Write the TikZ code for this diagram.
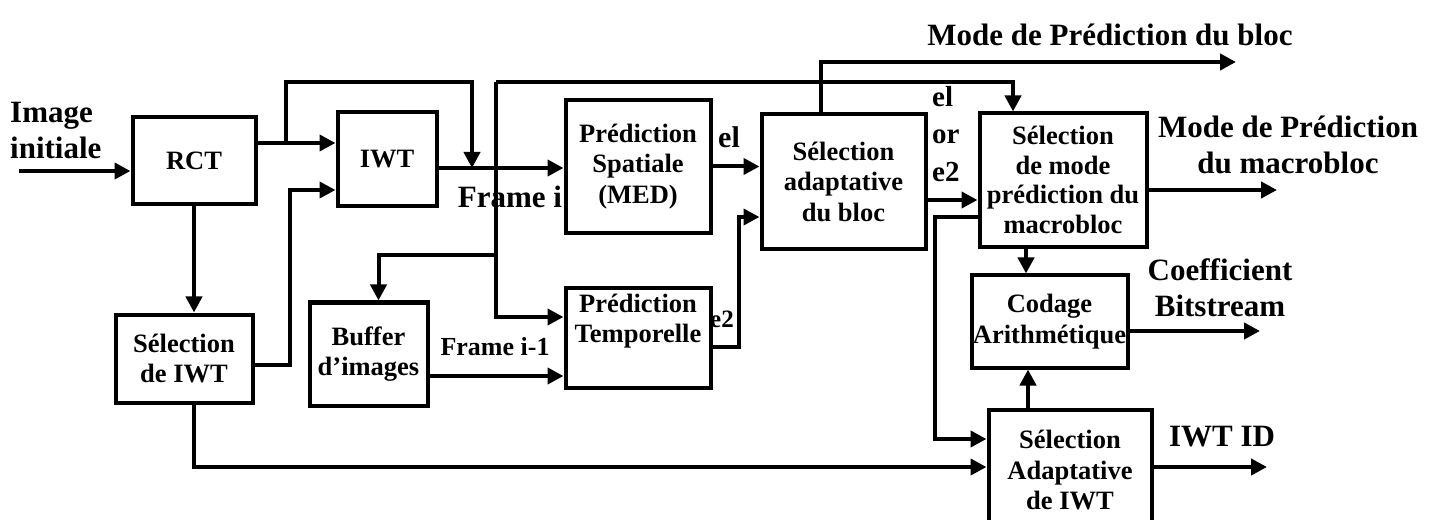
\documentclass[tikz,border=0pt]{standalone}
\usepackage{fontspec}
\setmainfont{Liberation Serif}
\usetikzlibrary{arrows.meta}

% Font sizes for the block texts and for the outside labels
\newcommand\blkfont{\fontsize{26.5bp}{30.5bp}\selectfont\bfseries}
\newcommand\tagfont{\fontsize{31bp}{36bp}\selectfont\bfseries}
\newcommand\smallfont{\fontsize{26bp}{30bp}\selectfont\bfseries}

\tikzset{
  blk/.style={draw, line width=4bp, inner sep=0pt, align=center, font=\blkfont},
  tag/.style={inner sep=0pt, align=center, font=\tagfont},
  smalltag/.style={inner sep=0pt, align=center, font=\smallfont},
  arr/.style={line width=4bp, -{Triangle[length=16bp,width=16bp]}},
}

\begin{document}
\begin{tikzpicture}[x=1bp,y=-1bp]
\useasboundingbox (0,0) rectangle (1435,520);
\clip (0,0) rectangle (1435,520);

% ---- processing blocks ----
\node[blk, minimum width=123bp, minimum height=87bp]  (rct)  at (194,161)     {RCT};
\node[blk, minimum width=99bp,  minimum height=94bp]  (iwt)  at (387,159.5)   {IWT};
\node[blk, minimum width=145bp, minimum height=132bp] (sp)   at (638,166.5)   {Prédiction\\Spatiale\\(MED)};
\node[blk, minimum width=164bp, minimum height=134bp] (sab)  at (843.5,181.5) {Sélection\\adaptative\\du bloc};
\node[blk, minimum width=167bp, minimum height=133bp, font=\fontsize{26.5bp}{29.5bp}\selectfont\bfseries]
                                                      (smb)  at (1063,180)    {Sélection\\de mode\\prédiction du\\macrobloc};
\node[blk, minimum width=156bp, minimum height=92bp]  (cod)  at (1049.5,321.5){Codage\\Arithmétique};
\node[blk, minimum width=163bp, minimum height=120bp] (sai)  at (1070,470)    {Sélection\\Adaptative\\de IWT};
\node[blk, minimum width=137bp, minimum height=88bp]  (siwt) at (184,358.5)   {Sélection\\de IWT};
\node[blk, minimum width=118bp, minimum height=103bp] (buf)  at (368.5,354)   {Buffer\\d’images};
\node[blk, minimum width=145bp, minimum height=99bp]  (tp)   at (638,338)     {};
\node[smalltag, font=\blkfont] (tptext) at (638,321) {Prédiction\\Temporelle};

% ---- outside labels ----
\node[tag, anchor=west, align=left] (imgin) at (10,131) {Image\\initiale};
\node[tag] (framei) at (510,197) {Frame i};
\node[tag, font=\fontsize{30bp}{36bp}\selectfont\bfseries] (e1l) at (729,137) {el};
\node[tag, anchor=west, align=left, font=\fontsize{29bp}{37.5bp}\selectfont\bfseries] (eore) at (932,134) {el\\or\\e2};
\node[tag] (mpbl) at (1110,35)  {Mode de Prédiction du bloc};
\node[tag] (mpml) at (1288,145) {Mode de Prédiction\\du macrobloc};
\node[tag] (cbl)  at (1220,288) {Coefficient\\Bitstream};
\node[tag] (idl)  at (1222,437) {IWT ID};
\node[smalltag] (fim1) at (495,347) {Frame i-1};
\node[smalltag, font=\fontsize{25bp}{30bp}\selectfont\bfseries] (e2l) at (722,319) {e2};

% ---- junction points of the wiring ----
\coordinate (in)  at (19,171);
\coordinate (j1)  at (286,143);
\coordinate (t1)  at (472,82);
\coordinate (fi)  at (472,168);
\coordinate (j2)  at (290,190);
\coordinate (j5)  at (0,467);
\coordinate (v1)  at (496,82);
\coordinate (v3)  at (496,255);
\coordinate (b1)  at (0,376);
\coordinate (j3)  at (739,217);
\coordinate (mpb) at (1236,62);
\coordinate (s1)  at (0,200);
\coordinate (j4)  at (935,217);
\coordinate (j6)  at (935,439);
\coordinate (mpm) at (1277,190);
\coordinate (cx)  at (1026,0);
\coordinate (cx2) at (1028,0);
\coordinate (cb)  at (1260,331);
\coordinate (id)  at (1267,467);

% ---- connectors ----
\draw[arr] (in) -- (in -| rct.west);
\draw[arr] (rct.east |- j1) -- (iwt.west |- j1);
\draw[arr] (j1) |- (t1) -- (fi);
\draw[arr] (iwt.east |- fi) -- (sp.west |- fi);
\draw[arr] ([yshift=-6.5bp]siwt.east) -| (j2) -- (iwt.west |- j2);
\draw[arr] (rct.south) -- (rct.south |- siwt.north);
\draw[arr] (rct.south |- siwt.south) |- (sai.west |- j5);

\draw[arr] (v1) -| ([xshift=-50bp]smb.north);
\draw[arr] (v1) |- ([yshift=21bp]tp.west);
\draw[arr] (v3) -| ([xshift=10bp]buf.north);
\draw[arr] (buf.east |- b1) -- (tp.west |- b1);

\draw[arr] (sp.east) -- (sp.east -| sab.west);
\draw[arr] ([yshift=-9bp]tp.east) -| (j3) -- (sab.west |- j3);
\draw[arr] ([xshift=-22.5bp]sab.north) |- (mpb);
\draw[arr] (sab.east |- s1) -- (smb.west |- s1);
\draw[arr] (smb.west |- j4) -- (j4) -- (j6) -- (sai.west |- j6);
\draw[arr] (smb.east |- mpm) -- (mpm);
\draw[arr] (smb.south -| cx) -- (cod.north -| cx);
\draw[arr] (sai.north -| cx2) -- (cod.south -| cx2);
\draw[arr] (cod.east |- cb) -- (cb);
\draw[arr] (sai.east |- id) -- (id);
\end{tikzpicture}
\end{document}
